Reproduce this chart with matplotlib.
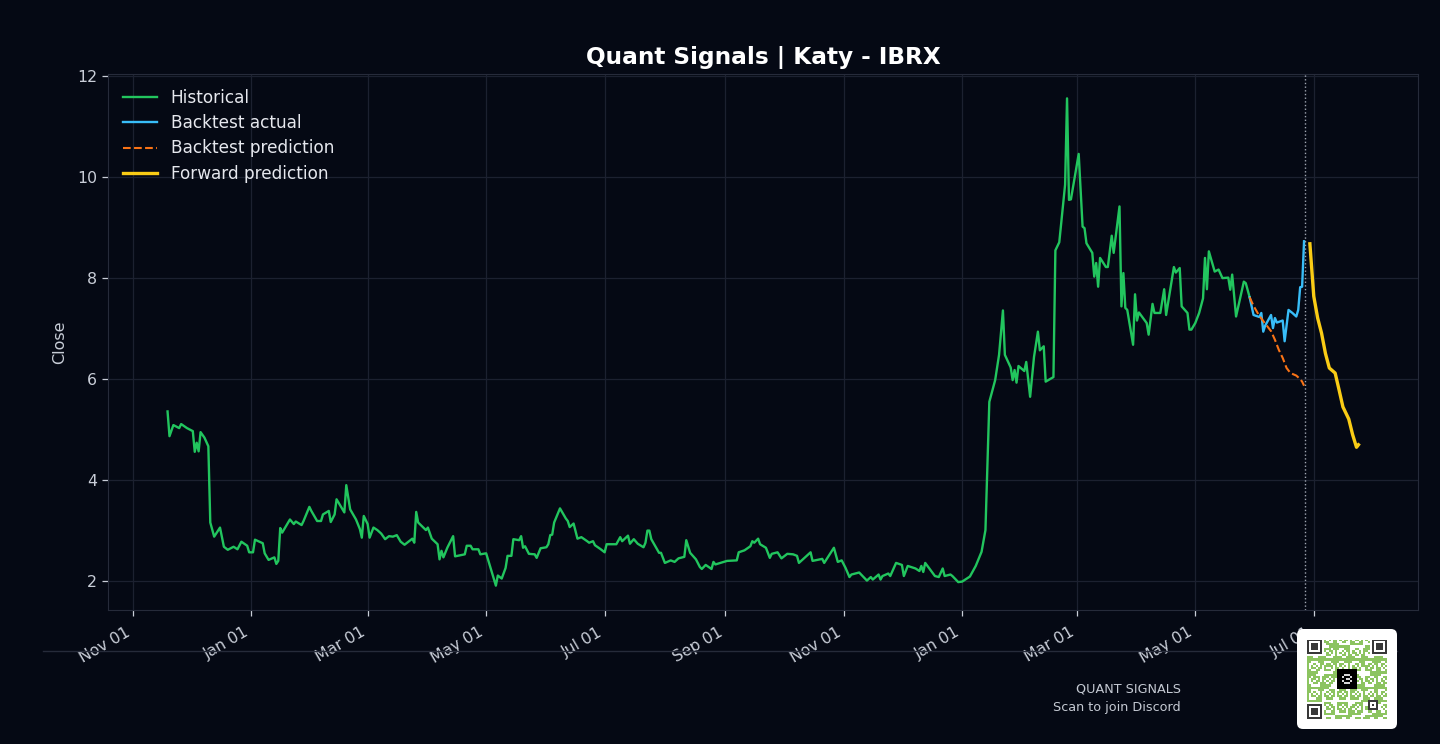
import numpy as np
import pandas as pd
import matplotlib
matplotlib.use("Agg")
import matplotlib.pyplot as plt
import matplotlib.dates as mdates
from matplotlib.patches import FancyBboxPatch
from matplotlib.lines import Line2D

# ---------------- data ----------------
TITLE = "Quant Signals | Katy - IBRX"
YLABEL = "Close"
ORIGIN = "2023-11-01"          # day offsets below are counted from this date

hist_day = [18, 19, 21, 24, 25, 28, 31, 32, 33, 34, 35, 37, 39, 40, 42, 45, 47, 49, 52, 54,
            56, 59, 60, 62, 63, 67, 68, 70, 73, 74, 75, 76, 77, 81, 83, 84, 87, 88, 91, 92,
            95, 97, 98, 101, 102, 104, 105, 109, 110, 112, 115, 117, 118, 119, 121, 122, 124, 126, 128, 130,
            132, 134, 136, 138, 140, 144, 145, 146, 147, 151, 152, 154, 157, 158, 159, 160, 162, 165, 166, 171,
            172, 174, 175, 178, 179, 182, 185, 187, 188, 190, 192, 193, 195, 196, 199, 200, 201, 202, 204, 207,
            208, 210, 213, 214, 215, 216, 217, 220, 223, 224, 225, 227, 229, 231, 234, 235, 237, 238, 241, 243,
            244, 249, 251, 252, 255, 256, 258, 260, 263, 264, 265, 266, 267, 271, 272, 274, 277, 279, 281, 284,
            285, 287, 290, 292, 293, 295, 298, 299, 300, 306, 311, 312, 315, 318, 319, 320, 322, 323, 326, 328,
            329, 332, 334, 337, 340, 342, 343, 349, 350, 355, 356, 361, 363, 365, 367, 369, 370, 374, 378, 380,
            381, 384, 385, 386, 389, 390, 393, 396, 397, 399, 403, 405, 406, 407, 408, 413, 415, 417, 418, 421,
            422, 425, 427, 431, 434, 437, 439, 441, 444, 446, 448, 449, 452, 453, 454, 455, 456, 459, 460, 462,
            464, 466, 467, 469, 470, 474, 475, 477, 480, 481, 482, 483, 487, 489, 490, 491, 494, 495, 496, 497,
            498, 501, 502, 504, 505, 508, 509, 510, 511, 512, 515, 516, 517, 518, 522, 523, 525, 526, 529, 531,
            532, 536, 537, 539, 540, 543, 544, 545, 547, 549, 551, 552, 553, 554, 557, 559, 561, 564, 565, 566,
            568, 572, 573, 575]
hist_close = [5.36, 4.87, 5.09, 5.03, 5.11, 5.03, 4.97, 4.56, 4.74, 4.57, 4.95, 4.84, 4.67, 3.16, 2.88, 3.06, 2.68, 2.62, 2.68, 2.63,
              2.78, 2.70, 2.57, 2.57, 2.82, 2.75, 2.55, 2.42, 2.47, 2.34, 2.40, 3.05, 2.96, 3.22, 3.13, 3.18, 3.11, 3.19, 3.47, 3.39,
              3.19, 3.19, 3.32, 3.39, 3.17, 3.32, 3.62, 3.36, 3.90, 3.42, 3.22, 3.03, 2.86, 3.29, 3.13, 2.86, 3.06, 3.01, 2.94, 2.83,
              2.89, 2.88, 2.91, 2.78, 2.72, 2.84, 2.76, 3.37, 3.16, 3.01, 3.06, 2.84, 2.73, 2.43, 2.60, 2.47, 2.66, 2.89, 2.49, 2.53,
              2.70, 2.70, 2.63, 2.63, 2.53, 2.55, 2.17, 1.91, 2.11, 2.05, 2.26, 2.50, 2.50, 2.83, 2.81, 2.89, 2.66, 2.69, 2.54, 2.53,
              2.46, 2.65, 2.67, 2.73, 2.91, 2.92, 3.16, 3.44, 3.24, 3.19, 3.07, 3.14, 2.84, 2.87, 2.79, 2.76, 2.79, 2.71, 2.63, 2.57,
              2.73, 2.73, 2.87, 2.79, 2.90, 2.74, 2.83, 2.74, 2.67, 2.76, 3.00, 3.00, 2.83, 2.56, 2.56, 2.36, 2.41, 2.38, 2.45, 2.48,
              2.81, 2.56, 2.43, 2.28, 2.24, 2.32, 2.24, 2.38, 2.33, 2.40, 2.41, 2.57, 2.61, 2.69, 2.79, 2.76, 2.84, 2.73, 2.66, 2.46,
              2.54, 2.57, 2.45, 2.54, 2.53, 2.50, 2.36, 2.57, 2.40, 2.44, 2.36, 2.66, 2.38, 2.41, 2.26, 2.08, 2.13, 2.17, 2.01, 2.08,
              2.03, 2.13, 2.03, 2.10, 2.15, 2.10, 2.36, 2.32, 2.10, 2.30, 2.25, 2.20, 2.30, 2.18, 2.36, 2.10, 2.08, 2.25, 2.10, 2.13,
              2.10, 1.98, 1.99, 2.09, 2.30, 2.58, 3.01, 5.55, 5.98, 6.48, 7.36, 6.48, 6.23, 5.98, 6.18, 5.93, 6.26, 6.16, 6.34, 5.65,
              6.44, 6.94, 6.57, 6.65, 5.95, 6.04, 8.55, 8.71, 9.85, 11.56, 9.55, 9.56, 10.46, 9.02, 8.99, 8.69, 8.50, 8.03, 8.30, 7.83,
              8.40, 8.22, 8.22, 8.84, 8.50, 9.42, 7.44, 8.10, 7.41, 7.37, 6.68, 7.68, 7.16, 7.32, 7.11, 6.88, 7.49, 7.31, 7.31, 7.78,
              7.27, 8.22, 8.11, 8.20, 7.44, 7.31, 6.98, 6.98, 7.11, 7.31, 7.60, 8.40, 7.78, 8.53, 8.13, 8.17, 8.00, 8.01, 7.77, 8.07,
              7.24, 7.93, 7.90, 7.62]

bt_day = [575, 577, 580, 581, 582, 583, 586, 587, 588, 589, 592, 593, 595, 597, 599, 600, 601, 602, 603]
bt_actual = [7.62, 7.27, 7.23, 7.31, 6.94, 7.06, 7.27, 7.01, 7.21, 7.12, 7.16, 6.75, 7.37, 7.31, 7.24, 7.37, 7.82, 7.83, 8.73]

pred_day = [575, 577, 580, 583, 586, 588, 590, 592, 594, 596, 599, 601, 602, 603]
pred_close = [7.62, 7.45, 7.25, 7.10, 6.95, 6.78, 6.58, 6.42, 6.22, 6.12, 6.07, 6.00, 5.95, 5.87]

fwd_day = [606, 607, 608, 610, 612, 614, 616, 619, 621, 623, 626, 628, 630, 631]
fwd_close = [8.68, 8.16, 7.64, 7.21, 6.91, 6.51, 6.22, 6.12, 5.79, 5.45, 5.21, 4.90, 4.65, 4.70]

cutoff = "2025-06-26 16:00"
legend_labels = ["Historical", "Backtest actual", "Backtest prediction", "Forward prediction"]
footer_lines = ["QUANT SIGNALS", "Scan to join Discord"]

# ---------------- style ----------------
BG = "#050914"
GRID = "#1c2130"
SPINE = "#262b3a"
TXT = "#c9ced8"
C_HIST = "#22c55e"
C_BTA = "#38bdf8"
C_BTP = "#f97316"
C_FWD = "#facc15"

plt.rcParams["font.family"] = ["DejaVu Sans"]

W, H = 1440, 744
fig = plt.figure(figsize=(W / 100, H / 100), dpi=100, facecolor=BG)
ax = fig.add_axes([108 / W, 1 - 610 / H, (1418 - 108) / W, (610 - 74) / H], facecolor=BG)

origin = pd.Timestamp(ORIGIN)
to_dates = lambda d: origin + pd.to_timedelta(d, unit="D")

ax.plot(to_dates(hist_day), hist_close, color=C_HIST, lw=1.7, label=legend_labels[0])
ax.plot(to_dates(bt_day), bt_actual, color=C_BTA, lw=1.7, label=legend_labels[1])
ax.plot(to_dates(pred_day), pred_close, color=C_BTP, lw=1.5, ls="--", label=legend_labels[2])
ax.plot(to_dates(fwd_day), fwd_close, color=C_FWD, lw=2.4, label=legend_labels[3])
ax.axvline(pd.Timestamp(cutoff), color="#a0a6b2", ls=":", lw=1.0)

ax.xaxis.set_major_locator(mdates.MonthLocator(bymonth=[1, 3, 5, 7, 9, 11]))
ax.xaxis.set_major_formatter(mdates.DateFormatter("%b %d"))
ax.set_yticks([2, 4, 6, 8, 10, 12])

ax.grid(True, color=GRID, lw=0.9)
ax.set_axisbelow(True)
for s in ax.spines.values():
    s.set_color(SPINE)
ax.tick_params(colors=TXT, labelsize=11.3, length=4.5, width=0.9)
ax.tick_params(axis="x", pad=6)
for lbl in ax.get_xticklabels():
    lbl.set_rotation(30)
    lbl.set_ha("right")

ax.set_ylabel(YLABEL, color=TXT, fontsize=11.5, labelpad=7)
ax.set_title(TITLE, color="white", fontsize=16.7, fontweight="bold", pad=7)

leg = ax.legend(loc="upper left", frameon=False, fontsize=12.2, labelcolor="#e6e8ee",
                labelspacing=0.42, handlelength=2.0)

# ---------------- footer overlay ----------------
ov = fig.add_axes([0, 0, 1, 1], facecolor="none")
ov.set_xlim(0, W)
ov.set_ylim(H, 0)
ov.axis("off")
ov.add_line(Line2D([43, 1397], [651, 651], color=SPINE, lw=1.0))
ov.text(1181, 689, footer_lines[0], ha="right", va="center", fontsize=9.2, color="#c5cad3")
ov.text(1181, 708, footer_lines[1], ha="right", va="center", fontsize=9.2, color="#c5cad3")
ov.add_patch(FancyBboxPatch((1301, 633), 92, 92, boxstyle="round,pad=4,rounding_size=6",
                            facecolor="white", edgecolor="none", zorder=5))

# QR-like decorative code (deterministic pattern)
N = 37
i, j = np.mgrid[0:N, 0:N]
h = (i * 2654435761 + j * 40503 + i * j * 97) % 1009
mods = (h % 7) < 4
qr = np.ones((N, N, 3))
green = np.array([0.55, 0.77, 0.38])
dark = np.array([0.22, 0.22, 0.22])
qr[mods] = green

def finder(r, c):
    qr[r:r + 7, c:c + 7] = dark
    qr[r + 1:r + 6, c + 1:c + 6] = 1.0
    qr[r + 2:r + 5, c + 2:c + 5] = dark
    if r + 7 < N:
        qr[r + 7, max(c - 1, 0):c + 8] = 1.0
    if c + 7 < N:
        qr[max(r - 1, 0):r + 8, c + 7] = 1.0
    if c - 1 >= 0:
        qr[max(r - 1, 0):r + 8, c - 1] = 1.0
    if r - 1 >= 0:
        qr[r - 1, c:c + 7] = 1.0

finder(0, 0)
finder(0, N - 7)
finder(N - 7, 0)
qr[28:33, 28:33] = dark
qr[29:32, 29:32] = 1.0
qr[30, 30] = dark
qr[14:23, 14:23] = 0.0
logo = np.array([[0, 1, 1, 1, 0],
                 [1, 0, 0, 0, 1],
                 [0, 0, 1, 1, 0],
                 [1, 0, 0, 0, 1],
                 [0, 1, 1, 1, 0]], dtype=bool)
sub = qr[16:21, 16:21]
sub[logo] = 0.85
qr[16:21, 16:21] = sub

qa = fig.add_axes([1306.5 / W, 1 - 719.5 / H, 80 / W, 80 / H])
qa.imshow(qr, interpolation="nearest", aspect="auto")
qa.axis("off")
qa.set_zorder(10)

fig.savefig("out.png", dpi=100, facecolor=BG)
